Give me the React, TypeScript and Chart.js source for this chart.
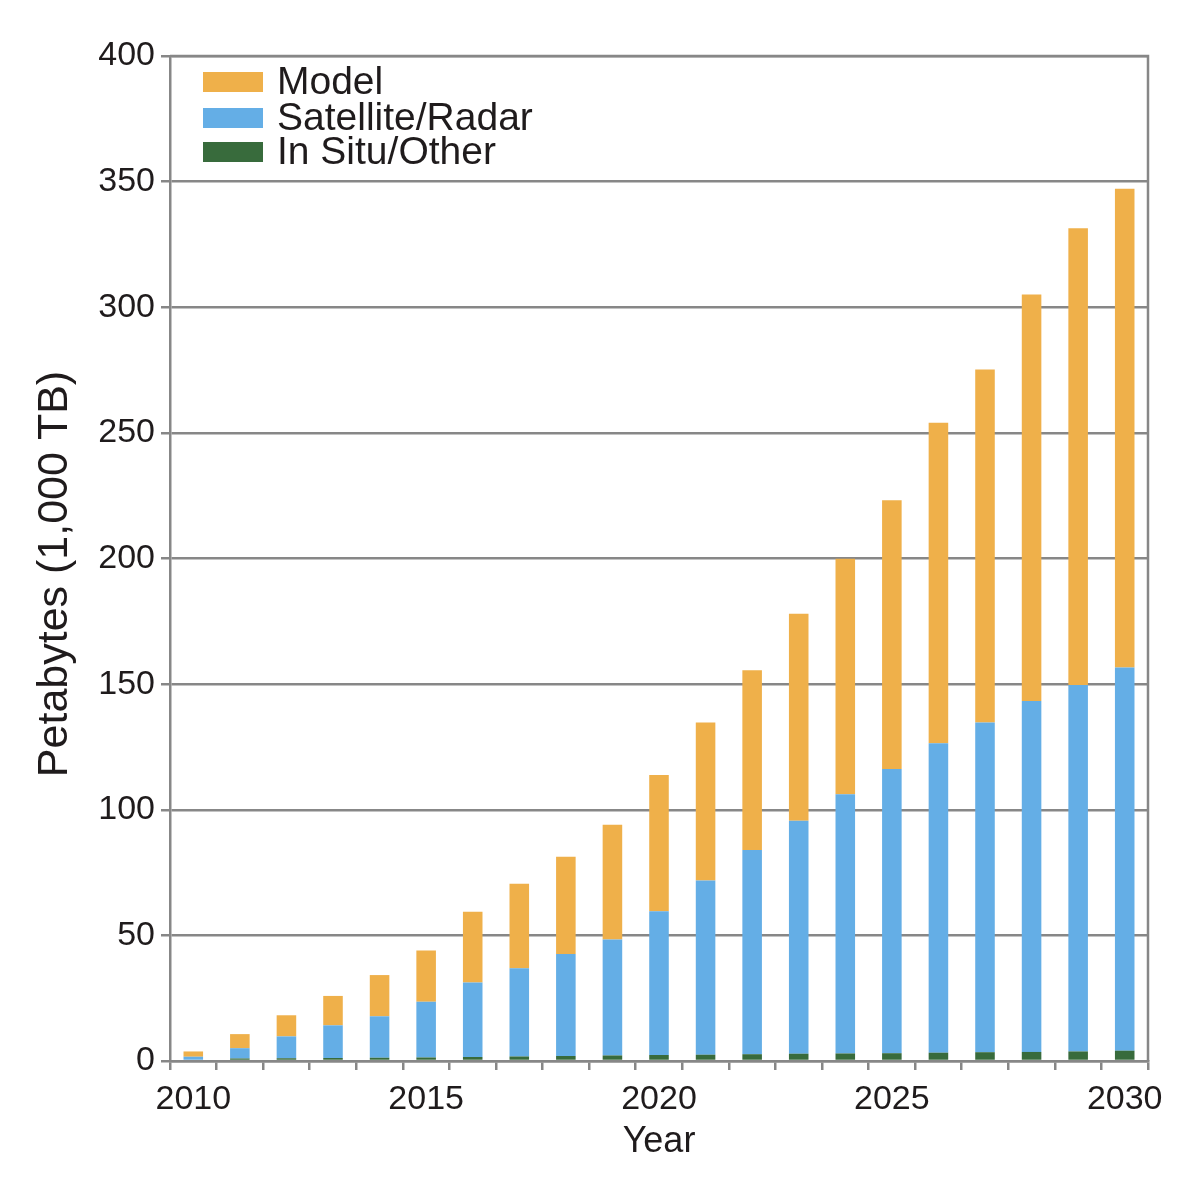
import React, { useEffect, useRef } from "react";
import { Chart, registerables, Plugin } from "chart.js";

Chart.register(...registerables);

const FONT = '"Liberation Sans", Arial, Helvetica, sans-serif';
const AXIS_COLOR = "#878787";
const TEXT_COLOR = "#1f1b1c";

const years = [
  "2010", "2011", "2012", "2013", "2014", "2015", "2016", "2017", "2018", "2019", "2020",
  "2021", "2022", "2023", "2024", "2025", "2026", "2027", "2028", "2029", "2030",
];

// Petabytes per year
const inSituOther = [
  0.5, 1.0, 1.1, 1.2, 1.3, 1.4, 1.6, 1.8, 2.0, 2.2, 2.4,
  2.5, 2.7, 2.9, 3.0, 3.1, 3.3, 3.5, 3.6, 3.8, 4.1,
];
const satelliteRadar = [
  1.2, 4.1, 8.7, 13.0, 16.5, 22.2, 29.6, 35.1, 40.6, 46.2, 57.2,
  69.3, 81.3, 92.7, 103.2, 113.1, 123.2, 131.2, 139.7, 145.9, 152.5,
];
const model = [
  2.1, 5.6, 8.4, 11.7, 16.4, 20.4, 28.2, 33.6, 38.7, 45.6, 54.2,
  62.9, 71.5, 82.4, 93.7, 107.0, 127.5, 140.5, 161.8, 181.7, 190.6,
];

const labeledYears = ["2010", "2015", "2020", "2025", "2030"];
const yTicks = [0, 50, 100, 150, 200, 250, 300, 350, 400];

const legendItems = [
  { label: "Model", color: "#efb04a" },
  { label: "Satellite/Radar", color: "#64aee6" },
  { label: "In Situ/Other", color: "#386b3c" },
];

const yTitle = "Petabytes (1,000 TB)";

// draws the frame, the in-plot legend and the y title
const decorPlugin: Plugin<"bar"> = {
  id: "decor",
  afterDraw(chart) {
    const { ctx, chartArea } = chart;
    ctx.save();
    ctx.strokeStyle = AXIS_COLOR;
    ctx.lineWidth = 2.5;
    ctx.beginPath();
    ctx.moveTo(chartArea.left, chartArea.top);
    ctx.lineTo(chartArea.right, chartArea.top);
    ctx.lineTo(chartArea.right, chartArea.bottom);
    ctx.stroke();

    ctx.font = `39px ${FONT}`;
    ctx.textBaseline = "alphabetic";
    ctx.textAlign = "left";
    const centers = [82, 118, 152];
    legendItems.forEach((item, i) => {
      ctx.fillStyle = item.color;
      ctx.fillRect(203, centers[i] - 10, 60, 20);
      ctx.fillStyle = TEXT_COLOR;
      ctx.fillText(item.label, 277, centers[i] + 12);
    });

    ctx.translate(55, 574);
    ctx.rotate(-Math.PI / 2);
    ctx.font = `43px ${FONT}`;
    ctx.textAlign = "center";
    ctx.textBaseline = "middle";
    ctx.fillText(yTitle, 0, 0);
    ctx.restore();
  },
};

export default function App() {
  const canvasRef = useRef<HTMLCanvasElement | null>(null);

  useEffect(() => {
    document.body.style.margin = "0";
    if (!canvasRef.current) return;

    const chart = new Chart(canvasRef.current, {
      type: "bar",
      data: {
        labels: years,
        datasets: [
          { label: "In Situ/Other", data: inSituOther, backgroundColor: "#386b3c" },
          { label: "Satellite/Radar", data: satelliteRadar, backgroundColor: "#64aee6" },
          { label: "Model", data: model, backgroundColor: "#efb04a" },
        ],
      },
      options: {
        responsive: true,
        maintainAspectRatio: false,
        animation: false,
        layout: { padding: { top: 56, right: 52, left: 0, bottom: 0 } },
        datasets: { bar: { barPercentage: 0.42, categoryPercentage: 1 } },
        plugins: {
          legend: { display: false },
          tooltip: { enabled: false },
        },
        scales: {
          x: {
            stacked: true,
            afterFit: (scale) => {
              scale.height = 124;
            },
            grid: {
              offset: true,
              drawOnChartArea: false,
              drawTicks: true,
              tickLength: 9,
              color: AXIS_COLOR,
              lineWidth: 2.5,
            },
            border: { display: true, color: AXIS_COLOR, width: 2.5 },
            ticks: {
              autoSkip: false,
              maxRotation: 0,
              padding: 9,
              color: TEXT_COLOR,
              font: { family: FONT, size: 34 },
              callback: (_v, i) => (labeledYears.includes(years[i]) ? years[i] : ""),
            },
            title: {
              display: true,
              text: "Year",
              color: TEXT_COLOR,
              font: { family: FONT, size: 36 },
              padding: { top: 0, bottom: 21 },
            },
          },
          y: {
            stacked: true,
            min: 0,
            max: 400,
            afterFit: (scale) => {
              scale.width = 170;
            },
            afterBuildTicks: (scale) => {
              scale.ticks = yTicks.map((v) => ({ value: v }));
            },
            grid: {
              color: AXIS_COLOR,
              lineWidth: 2.5,
              tickLength: 9,
            },
            border: { display: true, color: AXIS_COLOR, width: 2.5 },
            ticks: {
              padding: 6,
              color: TEXT_COLOR,
              font: { family: FONT, size: 34 },
            },
          },
        },
      },
      plugins: [decorPlugin],
    });

    return () => {
      chart.destroy();
    };
  }, []);

  return (
    <div style={{ width: 1200, height: 1185, position: "relative", background: "#fff" }}>
      <canvas ref={canvasRef} />
    </div>
  );
}
